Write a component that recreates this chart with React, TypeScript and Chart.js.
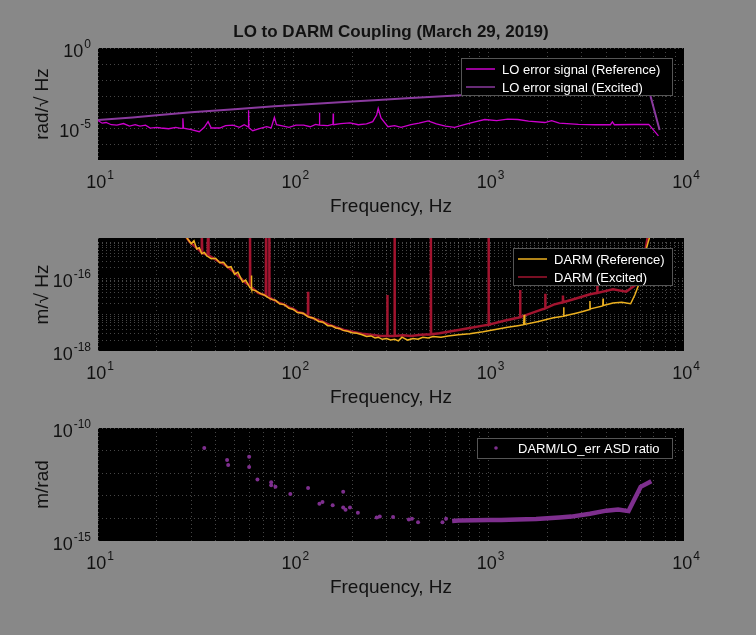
import React, { useEffect, useRef } from "react";
import { Chart, registerables } from "chart.js";
Chart.register(...registerables);

// ---------- data ----------
const loReference: [number, number][] = [
  [10, 2.9e-5], [10.5, 2.0e-5], [11, 2.2e-5], [11.7, 1.6e-5], [12.5, 1.5e-5], [13.5, 1.9e-5], [14.5, 1.3e-5], [15.5, 1.6e-5], [16.4, 1.3e-5], [17.5, 1.5e-5],
  [18.5, 9.8e-6], [20, 1.1e-5], [21, 1.0e-5], [23, 9e-6], [25, 1.1e-5], [26.5, 9.5e-6], [27.1, 9.7e-6], [27.2, 4e-5], [27.4, 9.8e-6],
  [30, 8e-6], [33, 5.9e-6], [35, 1.1e-5], [36.6, 2.5e-5], [38, 1.0e-5], [42, 1.0e-5], [45, 1.4e-5],
  [49, 1.5e-5], [53, 1.1e-5], [56, 1.6e-5], [58.7, 1.2e-5], [59, 1.3e-4], [59.3, 1.0e-5], [62, 6.8e-6],
  [67, 9e-6], [73, 1.2e-5], [77, 1.0e-5], [80, 4.6e-5], [82, 1.6e-5], [89, 1.3e-5], [95, 1.1e-5],
  [103, 1.5e-5], [113, 1.5e-5], [122, 1.2e-5], [130, 1.7e-5], [135.6, 1.5e-5], [136, 9e-5], [136.5, 1.5e-5], [150, 1.4e-5],
  [159.5, 1.7e-5], [160, 8e-5], [160.5, 1.6e-5], [175, 1.9e-5], [195, 2.1e-5], [215, 1.6e-5], [237, 1.8e-5],
  [255, 2.5e-5], [267, 6.5e-5], [272, 1.7e-4], [281, 4.2e-5], [305, 1.2e-5], [330, 1.4e-5], [356, 1.1e-5],
  [400, 1.6e-5], [440, 2.0e-5], [490, 2.8e-5], [540, 1.8e-5], [600, 1.3e-5], [670, 1.1e-5], [750, 1.6e-5],
  [850, 2.4e-5], [955, 3.4e-5], [1100, 2.9e-5], [1250, 3.6e-5], [1410, 3.4e-5], [1600, 2.7e-5], [1940, 2.2e-5],
  [2100, 2.9e-5], [2300, 2.0e-5], [2880, 1.7e-5], [3500, 1.6e-5], [4200, 1.6e-5], [4300, 2.4e-5], [4400, 1.6e-5],
  [5500, 1.65e-5], [6600, 1.7e-5], [7400, 3.2e-6],
];
const loExcited: [number, number][] = [
  [10, 3.2e-5], [15, 4.6e-5], [20, 6.3e-5], [30, 9.5e-5], [50, 1.5e-4], [80, 2.3e-4], [130, 3.3e-4],
  [200, 4.6e-4], [272, 5.6e-4], [400, 7.5e-4], [720, 1.1e-3], [1500, 2.0e-3], [3000, 3.2e-3],
  [6500, 5.0e-3], [7500, 7.5e-6],
];
const darmReference: [number, number][] = [
  [28, 1.5e-15], [30, 9e-16], [31, 1.1e-15], [32, 6.5e-16], [33, 7e-16], [34, 4.8e-16], [35, 5.2e-16], [36, 4.2e-16], [38, 3.5e-16], [40, 3.6e-16], [42, 2.7e-16],
  [44, 2.8e-16], [46, 2.0e-16], [48, 2.1e-16], [50, 1.3e-16], [52, 1.5e-16], [55, 8e-17], [57, 9e-17], [60, 5.5e-17], [60.8, 5.5e-17], [61, 1.2e-16], [61.2, 5e-17], [64, 4.6e-17], [68, 3.8e-17],
  [71, 3.5e-17], [74, 3e-17], [78, 2.6e-17], [81, 2.5e-17], [85, 2.0e-17], [90, 1.9e-17], [95, 1.5e-17], [100, 1.4e-17], [105, 1.15e-17], [112, 1.1e-17], [119, 8.8e-18], [127, 8e-18], [135, 6.5e-18],
  [142, 6.2e-18], [150, 5e-18], [157, 5e-18], [165, 4.3e-18], [172, 4.2e-18], [180, 3.7e-18], [190, 3.5e-18], [200, 3.2e-18], [212, 3.1e-18], [225, 2.8e-18], [237, 2.5e-18], [250, 2.6e-18], [262, 2.3e-18], [272, 2.4e-18],
  [285, 2.1e-18], [300, 2.2e-18], [315, 2.0e-18], [330, 2.1e-18], [345, 1.9e-18], [360, 2.4e-18], [385, 2.0e-18], [410, 2.2e-18], [435, 2.1e-18], [460, 2.4e-18], [490, 2.3e-18], [520, 2.5e-18], [570, 2.4e-18], [620, 2.6e-18],
  [700, 2.8e-18], [800, 3.0e-18], [935, 3.4e-18], [1100, 4.0e-18], [1250, 4.5e-18], [1410, 5.0e-18],
  [1510, 5.3e-18], [1520, 1e-17], [1530, 5.4e-18], [1800, 6.5e-18], [2000, 7.5e-18], [2150, 8.2e-18],
  [2410, 9.0e-18], [2420, 1.6e-17], [2430, 9.2e-18], [2800, 1.1e-17], [3000, 1.2e-17], [3290, 1.4e-17],
  [3300, 2.4e-17], [3310, 1.45e-17], [3840, 1.75e-17], [3850, 2.8e-17], [3860, 1.8e-17], [4330, 2.1e-17],
  [4800, 2.2e-17], [5330, 2.0e-17], [5600, 3.5e-17], [5900, 7.4e-17], [6400, 6.3e-16], [6800, 2e-15],
];
const darmExcited: [number, number][] = [
  [28, 1.5e-15], [29.5, 1.0e-15], [31, 8e-16], [33, 6e-16], [33.8, 5.2e-16], [34, 1.5e-15], [34.2, 5e-16], [36.4, 4.5e-16], [36.6, 2e-15], [36.8, 4.3e-16],
  [39, 3.6e-16], [42, 2.8e-16], [44, 2.5e-16], [46, 2.1e-16], [49, 1.6e-16], [52, 1.2e-16], [55, 9e-17], [58, 7e-17], [59.8, 6.5e-17], [60, 2e-15], [60.2, 6e-17], [63, 5e-17], [66, 4e-17],
  [72.3, 3.4e-17], [72.5, 1.5e-15], [72.7, 3.3e-17], [75.1, 3.1e-17], [75.3, 1.5e-15], [75.5, 3e-17], [80, 2.5e-17], [85, 2.1e-17], [90, 1.9e-17], [95, 1.6e-17], [100, 1.45e-17], [105, 1.2e-17], [112, 1.1e-17],
  [118.8, 9.2e-18], [119, 4.3e-17], [119.2, 9e-18], [130, 7.5e-18], [140, 6.5e-18], [152, 5.3e-18], [165, 4.5e-18], [182, 3.8e-18], [200, 3.4e-18], [225, 3.0e-18], [250, 2.8e-18], [280, 2.6e-18],
  [302.5, 2.6e-18], [303, 3.5e-17], [303.5, 2.6e-18], [329.5, 2.6e-18], [330, 2e-15], [330.5, 2.6e-18], [365, 2.7e-18], [400, 2.6e-18], [450, 2.8e-18], [505, 2.9e-18], [506, 2e-15], [507, 2.9e-18],
  [560, 3.1e-18], [620, 3.4e-18], [700, 3.8e-18], [800, 4.3e-18], [935, 5.0e-18], [999, 5.3e-18], [1000, 2e-15], [1001, 5.3e-18], [1200, 6.8e-18], [1410, 8.2e-18],
  [1448, 8.5e-18], [1450, 4.8e-17], [1452, 8.6e-18], [1800, 1.3e-17], [1948, 1.5e-17], [1950, 3.8e-17], [1952, 1.5e-17], [2150, 1.9e-17],
  [2395, 2.2e-17], [2400, 3.4e-17], [2405, 2.2e-17], [2800, 2.8e-17], [3270, 3.6e-17], [3595, 4e-17], [3600, 9.1e-17], [3605, 4e-17],
  [4330, 5e-17], [5060, 4.3e-17], [5800, 7.4e-17], [6200, 3e-16], [6600, 2e-15],
];
const ratioScatter: [number, number][] = [
  [35, 1.3e-11], [45.8, 3.8e-12], [46.4, 2.3e-12], [59.4, 5.4e-12], [59.4, 1.9e-12], [65.5, 5.3e-13],
  [77, 4e-13], [77, 2.9e-13], [81, 2.5e-13], [96.5, 1.2e-13], [119, 2.2e-13], [136, 4.5e-14], [141, 5.3e-14],
  [159, 3.8e-14], [180, 1.5e-13], [180, 3e-14], [185, 2.4e-14], [195, 3e-14], [214, 1.8e-14], [267, 1.1e-14],
  [277, 1.2e-14], [324, 1.15e-14], [390, 8.9e-15], [405, 9.6e-15], [435, 6.8e-15], [580, 6.8e-15], [605, 9.6e-15],
];
const ratioBand: [number, number][] = [
  [650, 7.6e-15], [700, 8e-15], [850, 8.2e-15], [1000, 8.4e-15], [1160, 8.5e-15], [1400, 8.9e-15],
  [1750, 9.4e-15], [2300, 1.1e-14], [2650, 1.2e-14], [3300, 1.6e-14], [4000, 2.2e-14], [4600, 2.5e-14],
  [5200, 2.1e-14], [6000, 2.5e-13], [6800, 4.4e-13],
];
const xTickLabels = [1, 2, 3, 4]; // exponents of 10
const titleText = "LO to DARM Coupling (March 29, 2019)";

// ---------- helpers ----------
const FONT = '"Liberation Sans", Arial, Helvetica, sans-serif';
const pts = (a: [number, number][]) => a.map(([x, y]) => ({ x, y }));
const xTickVals = (() => {
  const t: number[] = [];
  for (let d = 1; d < 4; d++) for (let m = 1; m < 10; m++) t.push(m * Math.pow(10, d));
  t.push(1e4);
  return t;
})();
const decades = (a: number, b: number) => {
  const t: number[] = [];
  for (let e = a; e <= b; e++) t.push(Math.pow(10, e));
  return t;
};
const minors = (a: number, b: number) => {
  const t: number[] = [];
  for (let e = a; e < b; e++) for (let m = 1; m < 10; m++) t.push(m * Math.pow(10, e));
  t.push(Math.pow(10, b));
  return t;
};

function drawPow(ctx: CanvasRenderingContext2D, exp: string, x: number, y: number, align: "right" | "center") {
  ctx.font = `18px ${FONT}`;
  const w1 = ctx.measureText("10").width;
  ctx.font = `12px ${FONT}`;
  const w2 = ctx.measureText(exp).width;
  const total = w1 + w2 + 1;
  const left = align === "right" ? x - total : x - total / 2;
  ctx.fillStyle = "#111";
  ctx.textAlign = "left";
  ctx.textBaseline = "alphabetic";
  ctx.font = `18px ${FONT}`;
  ctx.fillText("10", left, y);
  ctx.font = `12px ${FONT}`;
  ctx.fillText(exp, left + w1 + 1, y - 9);
}

type LegendItem = { label: string; color: string; kind: "line" | "dot" };
type Extra = {
  yTickExps: number[];
  yLabel: string;
  title?: string;
  legend: { x0: number; y0: number; x1: number; y1: number; textX: number; rows: number[]; items: LegendItem[] };
};

const subplotPlugin = {
  id: "subplot",
  beforeDraw(chart: any) {
    const { ctx, chartArea: a } = chart;
    ctx.save();
    ctx.fillStyle = "#000";
    ctx.fillRect(a.left, a.top, a.right - a.left, a.bottom - a.top);
    ctx.restore();
  },
  afterDraw(chart: any, _args: any, opts: Extra) {
    const { ctx, chartArea: a, scales } = chart;
    ctx.save();
    for (const e of opts.yTickExps) {
      const py = scales.y.getPixelForValue(Math.pow(10, e));
      drawPow(ctx, String(e), a.left - 7, py + 9, "right");
    }
    for (const e of xTickLabels) {
      const px = scales.x.getPixelForValue(Math.pow(10, e));
      drawPow(ctx, String(e), px + 2, a.bottom + 28, "center");
    }
    const cx = (a.left + a.right) / 2;
    ctx.fillStyle = "#111";
    ctx.textAlign = "center";
    ctx.font = `19px ${FONT}`;
    ctx.fillText("Frequency, Hz", cx, a.bottom + 52);
    ctx.save();
    ctx.translate(49, (a.top + a.bottom) / 2);
    ctx.rotate(-Math.PI / 2);
    ctx.textBaseline = "middle";
    ctx.fillText(opts.yLabel, 0, -6);
    ctx.restore();
    if (opts.title) {
      ctx.font = `bold 17px ${FONT}`;
      ctx.fillText(opts.title, cx, a.top - 11);
    }
    const L = opts.legend;
    ctx.fillStyle = "#000";
    ctx.fillRect(L.x0, L.y0, L.x1 - L.x0, L.y1 - L.y0);
    ctx.strokeStyle = "#555";
    ctx.lineWidth = 1;
    ctx.strokeRect(L.x0 + 0.5, L.y0 + 0.5, L.x1 - L.x0 - 1, L.y1 - L.y0 - 1);
    L.items.forEach((it, i) => {
      const y = L.rows[i];
      ctx.strokeStyle = it.color;
      ctx.fillStyle = it.color;
      if (it.kind === "line") {
        ctx.lineWidth = 1.5;
        ctx.beginPath();
        ctx.moveTo(L.x0 + 5, y);
        ctx.lineTo(L.textX - 7, y);
        ctx.stroke();
      } else {
        ctx.beginPath();
        ctx.arc(L.x0 + 19, y, 1.8, 0, Math.PI * 2);
        ctx.fill();
      }
      ctx.fillStyle = "#fff";
      ctx.font = `13px ${FONT}`;
      ctx.textAlign = "left";
      ctx.textBaseline = "middle";
      ctx.fillText(it.label, L.textX, y + 1);
    });
    ctx.restore();
  },
};

const W = 756;
const H = 635;

function SubChart(props: {
  top: number;
  bottom: number;
  datasets: any[];
  yMin: number;
  yMax: number;
  yGrid: number[];
  extra: Extra;
}) {
  const ref = useRef<HTMLCanvasElement>(null);
  useEffect(() => {
    const gridColor = "rgba(140,140,140,0.5)";
    const chart = new Chart(ref.current!, {
      type: "line",
      data: { datasets: props.datasets },
      plugins: [subplotPlugin as any],
      options: {
        animation: false,
        responsive: false,
        devicePixelRatio: 1,
        layout: { padding: { left: 98, right: 72, top: props.top, bottom: H - props.bottom } },
        plugins: { legend: { display: false }, tooltip: { enabled: false }, subplot: props.extra } as any,
        elements: { point: { radius: 0 } },
        scales: {
          x: {
            type: "logarithmic",
            min: 10,
            max: 1e4,
            afterBuildTicks: (s: any) => { s.ticks = xTickVals.map((v) => ({ value: v })); },
            ticks: { display: false },
            grid: { color: gridColor, lineWidth: 1, drawTicks: false, tickLength: 0 },
            border: { display: false, dash: [1, 3] },
          },
          y: {
            type: "logarithmic",
            min: props.yMin,
            max: props.yMax,
            afterBuildTicks: (s: any) => { s.ticks = props.yGrid.map((v) => ({ value: v })); },
            ticks: { display: false },
            grid: { color: gridColor, lineWidth: 1, drawTicks: false, tickLength: 0 },
            border: { display: false, dash: [1, 3] },
          },
        },
      } as any,
    });
    return () => chart.destroy();
  }, []);
  return (
    <canvas
      ref={ref}
      width={W}
      height={H}
      style={{ position: "absolute", left: 0, top: 0, width: W, height: H }}
    />
  );
}

const C_LOREF = "#cc00cc";
const C_LOEXC = "#8a3a9e";
const C_DREF = "#edb120";
const C_DEXC = "#a2142f";
const C_RATIO = "#7e2f8e";

export default function App() {
  useEffect(() => {
    document.body.style.margin = "0";
  }, []);
  const lineDs = (label: string, data: [number, number][], color: string, w: number) => ({
    label, data: pts(data), borderColor: color, backgroundColor: color, borderWidth: w,
    pointRadius: 0, showLine: true, tension: 0,
  });
  return (
    <div style={{ position: "fixed", left: 0, top: 0, width: W, height: H, background: "#888888", overflow: "hidden" }}>
      <SubChart
        top={48}
        bottom={160}
        yMin={1e-7}
        yMax={1}
        yGrid={decades(-7, 0)}
        datasets={[lineDs("LO error signal (Reference)", loReference, C_LOREF, 1.3), lineDs("LO error signal (Excited)", loExcited, C_LOEXC, 2)]}
        extra={{
          yTickExps: [0, -5],
          yLabel: "rad/\u221A Hz",
          title: titleText,
          legend: {
            x0: 461, y0: 58, x1: 673, y1: 96, textX: 502, rows: [69, 87],
            items: [
              { label: "LO error signal (Reference)", color: C_LOREF, kind: "line" },
              { label: "LO error signal (Excited)", color: C_LOEXC, kind: "line" },
            ],
          },
        }}
      />
      <SubChart
        top={238}
        bottom={351}
        yMin={1e-18}
        yMax={1.3e-15}
        yGrid={minors(-18, -15)}
        datasets={[lineDs("DARM (Reference)", darmReference, C_DREF, 1.5), lineDs("DARM (Excited)", darmExcited, C_DEXC, 2.5)]}
        extra={{
          yTickExps: [-16, -18],
          yLabel: "m/\u221A Hz",
          legend: {
            x0: 513, y0: 248, x1: 673, y1: 286, textX: 554, rows: [259, 277],
            items: [
              { label: "DARM (Reference)", color: C_DREF, kind: "line" },
              { label: "DARM (Excited)", color: C_DEXC, kind: "line" },
            ],
          },
        }}
      />
      <SubChart
        top={428}
        bottom={541}
        yMin={1e-15}
        yMax={1e-10}
        yGrid={decades(-15, -10)}
        datasets={[
          { label: "DARM/LO_err ASD ratio", data: pts(ratioScatter), showLine: false, pointRadius: 2, pointBorderWidth: 0, backgroundColor: C_RATIO, borderColor: C_RATIO },
          lineDs("band", ratioBand, C_RATIO, 4.5),
        ]}
        extra={{
          yTickExps: [-10, -15],
          yLabel: "m/rad",
          legend: {
            x0: 477, y0: 438, x1: 673, y1: 459, textX: 518, rows: [448],
            items: [{ label: "DARM/LO_err ASD ratio", color: C_RATIO, kind: "dot" }],
          },
        }}
      />
    </div>
  );
}
